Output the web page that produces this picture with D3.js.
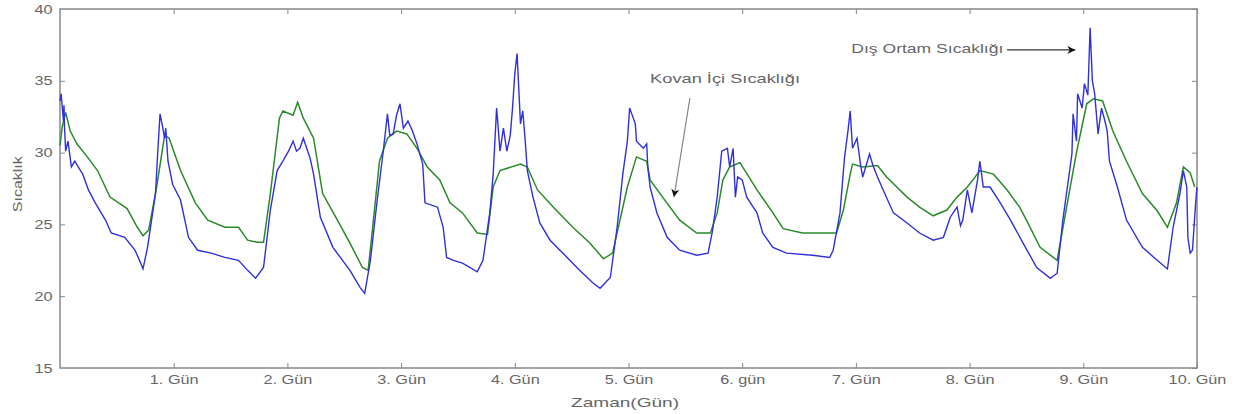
<!DOCTYPE html>
<html>
<head>
<meta charset="utf-8">
<script src="https://cdn.jsdelivr.net/npm/d3@7"></script>
<style>
  body { margin: 0; background: #fff; }
  text { font-family: "Liberation Sans", Arial, sans-serif; fill: #666; }
</style>
</head>
<body>
<script>
// day ticks on the x axis
const xTicks = [1, 2, 3, 4, 5, 6, 7, 8, 9, 10];
const xLabels = ["1. Gün", "2. Gün", "3. Gün", "4. Gün", "5. Gün", "6. gün", "7. Gün", "8. Gün", "9. Gün", "10. Gün"];
const yTicks = [15, 20, 25, 30, 35, 40];

// Dış ortam sıcaklığı (blue) : [gün, °C]
const outside = [
  [0.00,33.6],[0.01,34.1],[0.03,32.2],[0.035,33.3],[0.04,31.7],[0.05,30.1],[0.07,30.8],[0.10,29.0],
  [0.13,29.4],[0.16,29.0],[0.20,28.5],[0.25,27.4],[0.31,26.5],[0.40,25.3],[0.45,24.4],[0.57,24.1],
  [0.66,23.2],[0.71,22.3],[0.73,21.9],[0.77,23.4],[0.84,27.15],[0.86,30.1],[0.88,32.7],[0.90,31.9],
  [0.92,31.0],[0.93,31.7],[0.95,29.4],[0.99,27.8],[1.06,26.7],[1.13,24.1],[1.21,23.2],[1.33,23.0],
  [1.45,22.7],[1.57,22.5],[1.65,21.8],[1.72,21.25],[1.79,22.0],[1.85,26.0],[1.91,28.75],[1.96,29.4],
  [2.01,30.1],[2.05,30.8],[2.08,30.1],[2.11,30.3],[2.14,31.0],[2.17,30.3],[2.20,29.6],[2.23,28.5],
  [2.29,25.5],[2.40,23.4],[2.55,21.8],[2.64,20.6],[2.68,20.2],[2.73,22.5],[2.79,26.7],[2.84,29.9],
  [2.88,32.7],[2.90,31.2],[2.93,31.3],[2.96,32.6],[2.99,33.4],[3.02,31.7],[3.06,32.2],[3.10,31.5],
  [3.14,30.6],[3.19,29.2],[3.21,26.5],[3.32,26.2],[3.37,24.8],[3.40,22.7],[3.46,22.5],[3.54,22.3],
  [3.67,21.7],[3.72,22.5],[3.78,25.8],[3.81,28.5],[3.84,33.1],[3.87,30.1],[3.90,31.7],[3.93,30.1],
  [3.96,31.2],[3.98,33.1],[4.00,35.5],[4.02,36.9],[4.05,32.0],[4.07,32.9],[4.09,31.0],[4.11,28.75],
  [4.16,26.9],[4.22,25.1],[4.31,23.9],[4.46,22.7],[4.57,21.8],[4.69,20.9],[4.75,20.55],[4.84,21.3],
  [4.90,24.8],[4.95,28.5],[4.99,30.8],[5.01,33.1],[5.06,32.0],[5.07,30.8],[5.13,30.3],[5.16,30.6],
  [5.17,29.0],[5.19,27.6],[5.25,25.8],[5.34,24.1],[5.45,23.2],[5.60,22.85],[5.70,23.0],[5.74,24.6],
  [5.78,26.9],[5.82,30.1],[5.87,30.3],[5.89,29.0],[5.92,30.3],[5.94,26.9],[5.96,28.3],[6.00,28.1],
  [6.04,26.9],[6.13,25.8],[6.18,24.4],[6.27,23.4],[6.39,23.0],[6.62,22.85],[6.77,22.7],[6.80,23.2],
  [6.86,25.8],[6.90,29.65],[6.93,31.5],[6.95,32.9],[6.97,30.3],[7.01,31.0],[7.04,29.2],[7.06,28.3],
  [7.12,29.9],[7.15,29.1],[7.19,28.3],[7.24,27.4],[7.33,25.8],[7.45,25.1],[7.56,24.4],[7.68,23.9],
  [7.77,24.1],[7.83,25.5],[7.89,26.2],[7.92,24.9],[7.94,25.3],[7.98,27.4],[8.02,25.8],[8.07,28.1],
  [8.09,29.4],[8.12,27.6],[8.18,27.6],[8.27,26.5],[8.36,25.3],[8.47,23.7],[8.59,22.0],[8.71,21.25],
  [8.77,21.6],[8.82,25.3],[8.90,29.9],[8.91,32.7],[8.94,30.8],[8.95,34.1],[8.99,33.1],[9.01,34.8],
  [9.04,34.0],[9.06,38.7],[9.08,35.0],[9.10,34.1],[9.13,31.3],[9.16,33.1],[9.19,32.2],[9.21,31.5],
  [9.23,29.4],[9.30,27.6],[9.38,25.3],[9.52,23.4],[9.65,22.5],[9.74,21.9],[9.79,24.8],[9.85,27.15],
  [9.88,28.75],[9.91,27.6],[9.92,24.1],[9.94,23.0],[9.96,23.2],[9.99,26.7],[10.00,27.6]
];

// Kovan içi sıcaklığı (green) : [gün, °C]
const hive = [
  [0.00,30.5],[0.02,31.8],[0.05,32.8],[0.09,31.5],[0.15,30.6],[0.24,29.7],[0.33,28.75],[0.44,26.9],
  [0.59,26.1],[0.68,24.8],[0.73,24.2],[0.78,24.6],[0.85,27.6],[0.92,31.2],[0.96,31.0],[1.06,28.75],
  [1.19,26.5],[1.30,25.3],[1.45,24.8],[1.57,24.8],[1.65,23.9],[1.74,23.75],[1.79,23.75],[1.85,27.15],
  [1.93,32.4],[1.96,32.9],[2.05,32.6],[2.09,33.5],[2.14,32.4],[2.23,31.0],[2.31,27.15],[2.44,25.3],
  [2.55,23.7],[2.66,22.0],[2.71,21.8],[2.75,24.8],[2.81,29.4],[2.88,31.0],[2.96,31.5],[3.05,31.3],
  [3.14,30.3],[3.23,29.0],[3.34,28.1],[3.43,26.5],[3.54,25.8],[3.67,24.4],[3.76,24.3],[3.81,27.6],
  [3.87,28.75],[4.05,29.2],[4.11,29.0],[4.20,27.4],[4.34,26.2],[4.51,24.8],[4.66,23.7],[4.78,22.6],
  [4.86,23.0],[4.99,27.6],[5.07,29.7],[5.16,29.4],[5.19,28.1],[5.30,26.9],[5.45,25.3],[5.60,24.4],
  [5.72,24.4],[5.78,25.8],[5.83,28.1],[5.89,29.0],[5.98,29.3],[6.13,27.4],[6.27,25.8],[6.36,24.7],
  [6.53,24.4],[6.77,24.4],[6.83,24.4],[6.89,26.0],[6.95,28.5],[6.97,29.2],[7.06,29.0],[7.19,29.1],
  [7.27,28.3],[7.45,26.9],[7.56,26.2],[7.68,25.6],[7.80,26.0],[7.89,26.9],[7.98,27.6],[8.03,28.1],
  [8.09,28.75],[8.21,28.5],[8.33,27.4],[8.44,26.2],[8.50,25.3],[8.62,23.4],[8.77,22.5],[8.86,26.5],
  [8.94,30.0],[9.03,33.4],[9.09,33.75],[9.17,33.6],[9.26,31.5],[9.38,29.4],[9.52,27.15],[9.65,25.95],
  [9.74,24.8],[9.82,26.5],[9.88,29.0],[9.94,28.6],[9.98,27.6]
];

const width = 1242, height = 414;
const margin = {top: 9, right: 45, bottom: 46, left: 60};

const svg = d3.select("body").append("svg")
    .attr("width", width)
    .attr("height", height);

const defs = svg.append("defs");
defs.append("marker")
    .attr("id", "head")
    .attr("viewBox", "0 0 10 10")
    .attr("refX", 10).attr("refY", 5)
    .attr("markerWidth", 12).attr("markerHeight", 8)
    .attr("markerUnits", "userSpaceOnUse")
    .attr("orient", "auto")
    .append("path")
    .attr("d", "M0,0 L10,5 L0,10 L3,5 Z")
    .attr("fill", "#111");

const x = d3.scaleLinear().domain([0, 10]).range([margin.left, width - margin.right]);
const y = d3.scaleLinear().domain([15, 40]).range([height - margin.bottom, margin.top]);

const stretch = "scale(1.25,1)";

// axes, matlab style: ticks pointing inward on all four sides
const gx = svg.append("g")
    .attr("transform", `translate(0,${y(15)})`)
    .call(d3.axisBottom(x).tickValues(xTicks).tickFormat((d, i) => xLabels[i]).tickSize(-5).tickPadding(7));
svg.append("g")
    .attr("transform", `translate(0,${y(40)})`)
    .call(d3.axisTop(x).tickValues(xTicks).tickFormat("").tickSize(-5));
const gy = svg.append("g")
    .attr("transform", `translate(${x(0)},0)`)
    .call(d3.axisLeft(y).tickValues(yTicks).tickSize(-5).tickPadding(6));
svg.append("g")
    .attr("transform", `translate(${x(10)},0)`)
    .call(d3.axisRight(y).tickValues(yTicks).tickFormat("").tickSize(-5));

svg.selectAll(".domain").remove();
svg.selectAll(".tick line").attr("stroke", "#888");
svg.selectAll(".tick text").attr("font-size", 13).attr("fill", "#777")
    .attr("transform", stretch);
gy.selectAll(".tick").filter(d => d === 15 || d === 40).select("line").remove();

svg.append("rect")
    .attr("x", x(0)).attr("y", y(40))
    .attr("width", x(10) - x(0)).attr("height", y(15) - y(40))
    .attr("fill", "none")
    .attr("stroke", "#888")
    .attr("stroke-width", 1.5);

const line = d3.line().x(d => x(d[0])).y(d => y(d[1]));

svg.append("path")
    .datum(hive)
    .attr("fill", "none")
    .attr("stroke", "#2a8a2a")
    .attr("stroke-width", 1.5)
    .attr("d", line);

svg.append("path")
    .datum(outside)
    .attr("fill", "none")
    .attr("stroke", "#3030dd")
    .attr("stroke-width", 1.4)
    .attr("d", line);

// axis titles
svg.append("text")
    .attr("transform", `translate(22,${y(27.8)}) rotate(-90)`)
    .attr("text-anchor", "middle")
    .attr("font-size", 13)
    .attr("fill", "#777")
    .attr("textLength", 56)
    .attr("lengthAdjust", "spacingAndGlyphs")
    .text("Sıcaklık");

svg.append("text")
    .attr("x", x(4.97)).attr("y", 407)
    .attr("text-anchor", "middle")
    .attr("font-size", 13)
    .attr("fill", "#777")
    .attr("textLength", 108)
    .attr("lengthAdjust", "spacingAndGlyphs")
    .text("Zaman(Gün)");

// annotations
svg.append("text")
    .attr("x", x(6.96)).attr("y", y(37.2) + 4)
    .attr("font-size", 13)
    .attr("fill", "#777")
    .attr("textLength", 152)
    .attr("lengthAdjust", "spacingAndGlyphs")
    .text("Dış Ortam Sıcaklığı");
svg.append("line")
    .attr("x1", x(8.33)).attr("y1", y(37.15))
    .attr("x2", x(8.93)).attr("y2", y(37.15))
    .attr("stroke", "#333")
    .attr("stroke-width", 1.2)
    .attr("marker-end", "url(#head)");

svg.append("text")
    .attr("x", x(5.19)).attr("y", y(35.1) + 4)
    .attr("font-size", 13)
    .attr("fill", "#777")
    .attr("textLength", 150)
    .attr("lengthAdjust", "spacingAndGlyphs")
    .text("Kovan İçi Sıcaklığı");
svg.append("line")
    .attr("x1", x(5.54)).attr("y1", y(33.8))
    .attr("x2", x(5.40)).attr("y2", y(26.9))
    .attr("stroke", "#888")
    .attr("stroke-width", 1.2)
    .attr("marker-end", "url(#head)");
</script>
</body>
</html>
